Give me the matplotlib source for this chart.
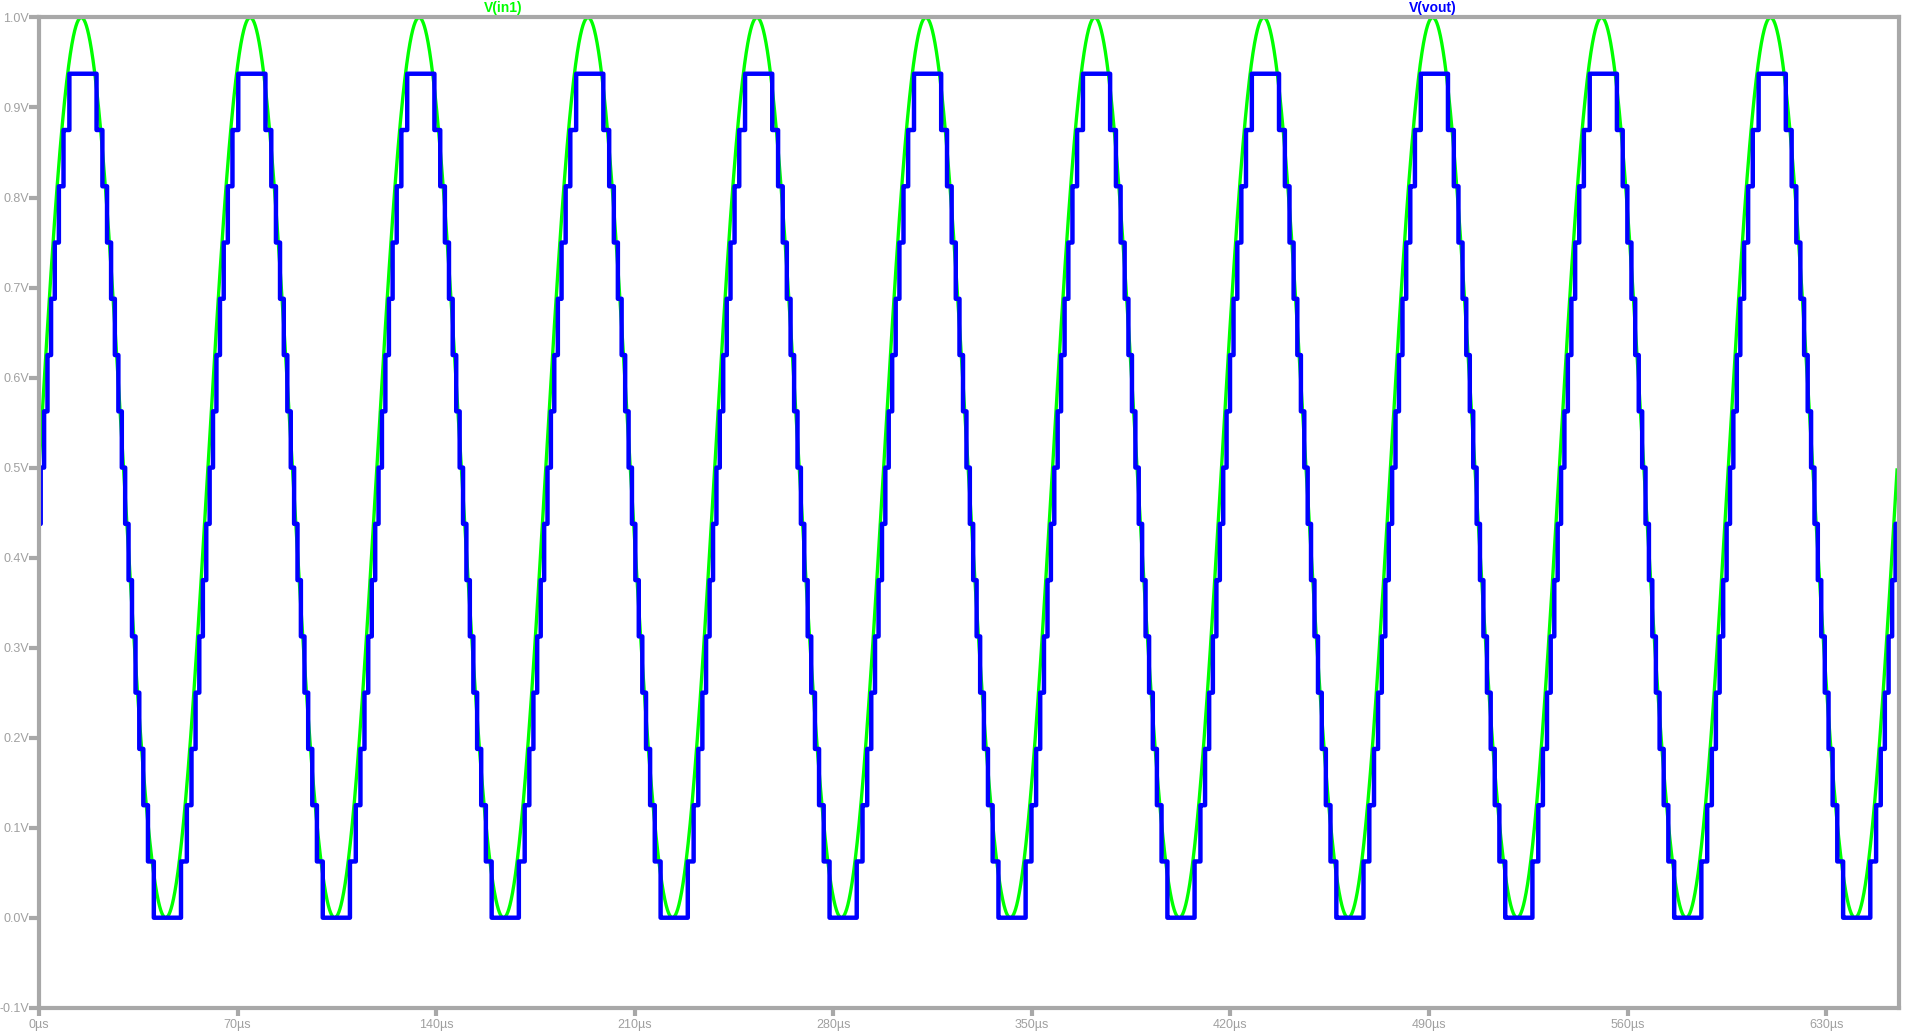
import numpy as np
from matplotlib import pyplot as plt

# values
t_stop = 655.0          # us
period = 59.55          # us (about 16.8 kHz)
v_offset = 0.5          # V
v_amp = 0.5             # V
n_bits = 4              # 16 output levels, step 1/16 V
delay = 0.6             # us, small lag of the quantised output
y_ticks = [-0.1, 0.0, 0.1, 0.2, 0.3, 0.4, 0.5, 0.6, 0.7, 0.8, 0.9, 1.0]
x_ticks = [0, 70, 140, 210, 280, 350, 420, 490, 560, 630]

grey = "#a8a8a8"
plt.rcParams["font.family"] = ["Liberation Sans", "DejaVu Sans"]

t = np.linspace(0, t_stop, 40001)
v_in = v_offset + v_amp * np.sin(2 * np.pi * t / period)
levels = 2 ** n_bits
v_late = v_offset + v_amp * np.sin(2 * np.pi * (t - delay) / period)
v_out = np.clip(np.floor(v_late * levels), 0, levels - 1) / levels

fig = plt.figure(figsize=(19.16, 10.34), dpi=100)
ax = fig.add_axes([0.02035, 0.0254, 0.9708, 0.9577])

ax.plot(t, v_in, color="#00ff00", linewidth=2.4)
ax.plot(t, v_out, color="#0000ff", linewidth=3.2, drawstyle="steps-post")

ax.set_xlim(0, 655.7)
ax.set_ylim(-0.1, 1.0)
ax.set_yticks(y_ticks)
ax.set_yticklabels([f"{v:.1f}V" for v in y_ticks])
ax.set_xticks(x_ticks)
ax.set_xticklabels([f"{v}µs" for v in x_ticks])

for s in ax.spines.values():
    s.set_color(grey)
    s.set_linewidth(3)
ax.tick_params(colors=grey, width=3, direction="out", labelsize=9)
ax.tick_params(axis="y", length=7, pad=0)
ax.tick_params(axis="x", length=6, pad=2)
for lbl in ax.get_xticklabels() + ax.get_yticklabels():
    lbl.set_color("#a0a0a0")

fig.text(503 / 1916, 1 - 8 / 1034, "V(in1)", color="#00ff00", fontsize=10,
         fontweight="bold", ha="center", va="center")
fig.text(1433 / 1916, 1 - 8 / 1034, "V(vout)", color="#0000ff", fontsize=10,
         fontweight="bold", ha="center", va="center")

plt.savefig("out.png", dpi=100)
